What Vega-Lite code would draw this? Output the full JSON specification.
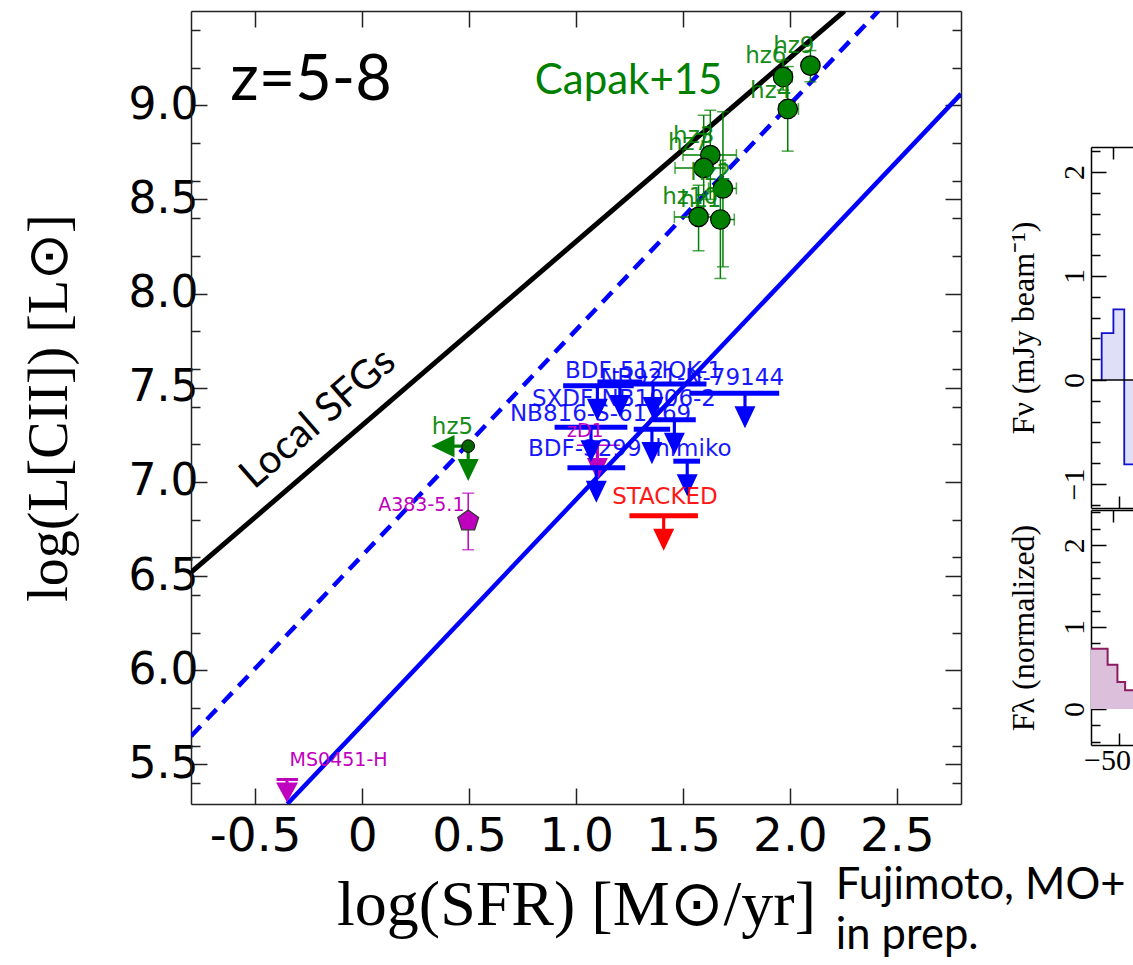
{
  "$schema": "https://vega.github.io/schema/vega-lite/v6.json",
  "background": "white",
  "padding": {"left": 21, "top": 7, "right": 0, "bottom": 0},
  "spacing": 45,
  "config": {
    "view": {"stroke": null},
    "axis": {"domainColor": "#222222", "domainWidth": 1.5, "tickColor": "#222222", "tickWidth": 1.5, "grid": false, "labelColor": "black", "titleColor": "black", "labelOverlap": false, "labelFlush": false}
  },
  "title": {"text": ["Fujimoto, MO+", "in prep."], "orient": "bottom", "anchor": "end", "align": "left", "frame": "bounds", "dx": -298, "dy": -72, "offset": 0, "font": "Lato", "fontSize": 43.5, "fontWeight": "normal", "lineHeight": 50, "color": "black"},
  "datasets": {
    "lines": [
      {"s": "local", "x": -0.8, "y": 6.52}, {"s": "local", "x": 2.255, "y": 9.5},
      {"s": "fit", "x": -0.35, "y": 5.29}, {"s": "fit", "x": 2.8, "y": 9.06},
      {"s": "fitoff", "x": -0.8, "y": 5.65}, {"s": "fitoff", "x": 2.414, "y": 9.5}
    ],
    "capak": [
      {"name": "hz9", "x": 2.096, "y": 9.21, "xlo": 2.06, "xhi": 2.13, "ylo": 9.124, "yhi": 9.29},
      {"name": "hz6", "x": 1.968, "y": 9.15, "xlo": 1.93, "xhi": 2.01, "ylo": 9.08, "yhi": 9.24},
      {"name": "hz4", "x": 1.99, "y": 8.98, "xlo": 1.95, "xhi": 2.04, "ylo": 8.756, "yhi": 9.205},
      {"name": "hz3", "x": 1.628, "y": 8.735, "xlo": 1.5, "xhi": 1.75, "ylo": 8.5, "yhi": 8.973},
      {"name": "hz7", "x": 1.597, "y": 8.667, "xlo": 1.463, "xhi": 1.697, "ylo": 8.42, "yhi": 8.947},
      {"name": "hz2", "x": 1.687, "y": 8.558, "xlo": 1.62, "xhi": 1.75, "ylo": 8.142, "yhi": 8.965},
      {"name": "hz10", "x": 1.573, "y": 8.407, "xlo": 1.46, "xhi": 1.68, "ylo": 8.227, "yhi": 8.575},
      {"name": "hz1", "x": 1.675, "y": 8.393, "xlo": 1.64, "xhi": 1.74, "ylo": 8.08, "yhi": 8.708}
    ],
    "limits": [
      {"name": "zD1", "g": "mag", "x": 1.1, "xlo": 1.005, "xhi": 1.205, "y": 7.195},
      {"name": "MS0451-H", "g": "mag", "x": -0.351, "xlo": -0.4, "xhi": -0.3, "y": 5.42},
      {"name": "BDF-512", "g": "blue", "x": 1.1, "xlo": 0.94, "xhi": 1.27, "y": 7.51},
      {"name": "SDF-46975", "g": "blue", "x": 1.205, "xlo": 1.1, "xhi": 1.31, "y": 7.53},
      {"name": "IOK-1", "g": "blue", "x": 1.36, "xlo": 1.17, "xhi": 1.61, "y": 7.52},
      {"name": "NB921-N-79144", "g": "blue", "x": 1.79, "xlo": 1.53, "xhi": 1.95, "y": 7.47},
      {"name": "SXDF-NB1006-2", "g": "blue", "x": 1.46, "xlo": 1.36, "xhi": 1.56, "y": 7.33},
      {"name": "NB816-S-61269", "g": "blue", "x": 1.07, "xlo": 0.9, "xhi": 1.24, "y": 7.29},
      {"name": "SDF-63544", "g": "blue", "x": 1.355, "xlo": 1.27, "xhi": 1.44, "y": 7.28},
      {"name": "himiko", "g": "blue", "x": 1.52, "xlo": 1.455, "xhi": 1.58, "y": 7.11},
      {"name": "BDF-3299", "g": "blue", "x": 1.095, "xlo": 0.96, "xhi": 1.23, "y": 7.075},
      {"name": "STACKED", "g": "red", "x": 1.41, "xlo": 1.25, "xhi": 1.57, "y": 6.82}
    ],
    "a383": [{"name": "A383-5.1", "x": 0.496, "y": 6.793, "ylo": 6.64, "yhi": 6.94}],
    "hz5": [{"name": "hz5", "x": 0.496, "y": 7.19}],
    "labels": [
      {"t": "BDF-512", "g": "blue", "x": 0.949, "y": 7.591},
      {"t": "IOK-1", "g": "blue", "x": 1.4, "y": 7.591},
      {"t": "NB921-N-79144", "g": "blue", "x": 1.113, "y": 7.554},
      {"t": "SXDF-NB1006-2", "g": "blue", "x": 0.794, "y": 7.442},
      {"t": "NB816-S-61269", "g": "blue", "x": 0.691, "y": 7.363},
      {"t": "BDF-3299", "g": "blue", "x": 0.776, "y": 7.177},
      {"t": "himiko", "g": "blue", "x": 1.37, "y": 7.177},
      {"t": "STACKED", "g": "red", "x": 1.169, "y": 6.922},
      {"t": "hz5", "g": "green", "x": 0.326, "y": 7.294},
      {"t": "hz9", "g": "green", "x": 1.922, "y": 9.312},
      {"t": "hz6", "g": "green", "x": 1.791, "y": 9.259},
      {"t": "hz4", "g": "green", "x": 1.814, "y": 9.073},
      {"t": "hz3", "g": "green", "x": 1.454, "y": 8.839},
      {"t": "hz7", "g": "green", "x": 1.43, "y": 8.8},
      {"t": "hz2", "g": "green", "x": 1.534, "y": 8.64},
      {"t": "hz10", "g": "green", "x": 1.403, "y": 8.515},
      {"t": "hz1", "g": "green", "x": 1.487, "y": 8.494},
      {"t": "zD1", "g": "mag", "x": 0.958, "y": 7.272},
      {"t": "A383-5.1", "g": "mag", "x": 0.075, "y": 6.876},
      {"t": "MS0451-H", "g": "mag", "x": -0.339, "y": 5.525}
    ],
    "notes": [
      {"t": "z=5-8", "x": -0.239, "y": 9.131},
      {"t": "Capak+15", "x": 0.807, "y": 9.126},
      {"t": "Local SFGs", "x": -0.206, "y": 7.336}
    ],
    "specA": [
      {"v": -59.9, "f": 0}, {"v": -59.9, "f": 0.45}, {"v": -53.2, "f": 0.68}, {"v": -47.0, "f": -0.81}, {"v": -42, "f": -0.81}
    ],
    "specB": [
      {"v": -66, "f": 0.735}, {"v": -56.5, "f": 0.54}, {"v": -50.9, "f": 0.33}, {"v": -46.5, "f": 0.23}, {"v": -42, "f": 0.23}
    ],
    "zero": [{"f": 0}]
  },
  "hconcat": [
    {
      "width": 770,
      "height": 793,
      "resolve": {"axis": {"x": "independent", "y": "independent"}},
      "layer": [
        {
          "data": {"name": "lines"},
          "transform": [{"filter": "datum.s == 'local'"}],
          "mark": {"type": "line", "color": "black", "strokeWidth": 5, "clip": true},
          "encoding": {
            "x": {"field": "x", "type": "quantitative", "scale": {"domain": [-0.8, 2.8], "nice": false, "zero": false},
              "axis": {"orient": "bottom", "values": [-0.5, 0, 0.5, 1, 1.5, 2, 2.5], "labelExpr": "datum.value == 0 ? '0' : (datum.value < 0 ? '-' : '') + format(abs(datum.value), '.1f')", "labelFont": "DejaVu Sans", "labelFontSize": 47, "labelPadding": 25, "tickSize": -16, "title": "log(SFR) [M⊙/yr]", "titleFont": "Liberation Serif", "titleFontSize": 64, "titleFontWeight": "normal", "titlePadding": 14}},
            "y": {"field": "y", "type": "quantitative", "scale": {"domain": [5.29, 9.5], "nice": false, "zero": false},
              "axis": {"orient": "left", "values": [5.4, 5.5, 5.6, 5.8, 6, 6.2, 6.4, 6.5, 6.6, 6.8, 7, 7.2, 7.4, 7.5, 7.6, 7.8, 8, 8.2, 8.4, 8.5, 8.6, 8.8, 9, 9.2, 9.4], "labelExpr": "abs(datum.value*2 - round(datum.value*2)) < 0.001 ? format(datum.value, '.1f') : ''", "tickSize": {"condition": {"test": "abs(datum.value*2 - round(datum.value*2)) < 0.001", "value": -16}, "value": -9}, "labelFont": "DejaVu Sans", "labelFontSize": 44, "labelPadding": 9, "title": "log(L[CII]) [L⊙]", "titleFont": "Liberation Serif", "titleFontSize": 56, "titleFontWeight": "normal", "titlePadding": 50}}
          }
        },
        {
          "data": {"name": "lines"},
          "transform": [{"filter": "datum.s == 'fitoff'"}],
          "mark": {"type": "line", "color": "#0000ff", "strokeWidth": 4.5, "strokeDash": [14, 9], "clip": true},
          "encoding": {
            "x": {"field": "x", "type": "quantitative", "scale": {"domain": [-0.8, 2.8], "nice": false, "zero": false},
              "axis": {"orient": "top", "values": [-0.5, 0, 0.5, 1, 1.5, 2, 2.5], "labels": false, "tickSize": -16, "title": null}},
            "y": {"field": "y", "type": "quantitative", "scale": {"domain": [5.29, 9.5], "nice": false, "zero": false},
              "axis": {"orient": "right", "values": [5.4, 5.5, 5.6, 5.8, 6, 6.2, 6.4, 6.5, 6.6, 6.8, 7, 7.2, 7.4, 7.5, 7.6, 7.8, 8, 8.2, 8.4, 8.5, 8.6, 8.8, 9, 9.2, 9.4], "labels": false, "tickSize": {"condition": {"test": "abs(datum.value*2 - round(datum.value*2)) < 0.001", "value": -16}, "value": -9}, "title": null}}
          }
        },
        {
          "data": {"name": "lines"},
          "transform": [{"filter": "datum.s == 'fit'"}],
          "mark": {"type": "line", "color": "#0000ff", "strokeWidth": 4.5, "clip": true},
          "encoding": {
            "x": {"field": "x", "type": "quantitative", "axis": null},
            "y": {"field": "y", "type": "quantitative", "axis": null}
          }
        },
        {
          "data": {"name": "capak"},
          "mark": {"type": "rule", "color": "#008000", "strokeWidth": 1.5},
          "encoding": {
            "x": {"field": "x", "type": "quantitative", "axis": null},
            "y": {"field": "ylo", "type": "quantitative", "axis": null},
            "y2": {"field": "yhi"}
          }
        },
        {
          "data": {"name": "capak"},
          "mark": {"type": "rule", "color": "#008000", "strokeWidth": 1.5},
          "encoding": {
            "x": {"field": "xlo", "type": "quantitative", "axis": null},
            "x2": {"field": "xhi"},
            "y": {"field": "y", "type": "quantitative", "axis": null}
          }
        },
        {
          "data": {"name": "capak"},
          "transform": [{"fold": ["ylo", "yhi"], "as": ["k", "v"]}],
          "mark": {"type": "tick", "orient": "horizontal", "color": "#008000", "size": 12, "thickness": 1.5},
          "encoding": {
            "x": {"field": "x", "type": "quantitative", "axis": null},
            "y": {"field": "v", "type": "quantitative", "axis": null}
          }
        },
        {
          "data": {"name": "capak"},
          "transform": [{"fold": ["xlo", "xhi"], "as": ["k", "v"]}],
          "mark": {"type": "tick", "orient": "vertical", "color": "#008000", "size": 12, "thickness": 1.5},
          "encoding": {
            "x": {"field": "v", "type": "quantitative", "axis": null},
            "y": {"field": "y", "type": "quantitative", "axis": null}
          }
        },
        {
          "data": {"name": "capak"},
          "mark": {"type": "point", "shape": "circle", "filled": true, "fill": "#007f00", "stroke": "black", "strokeWidth": 1.2, "size": 380, "opacity": 1},
          "encoding": {
            "x": {"field": "x", "type": "quantitative", "axis": null},
            "y": {"field": "y", "type": "quantitative", "axis": null}
          }
        },
        {
          "data": {"name": "hz5"},
          "mark": {"type": "point", "shape": "M-0.09,-1L0.09,-1L0.09,-0.26L0.6,-0.26L0,1L-0.6,-0.26L-0.09,-0.26Z", "filled": true, "color": "#008000", "size": 1225, "yOffset": 17.5, "opacity": 1, "strokeWidth": 0},
          "encoding": {
            "x": {"field": "x", "type": "quantitative", "axis": null},
            "y": {"field": "y", "type": "quantitative", "axis": null}
          }
        },
        {
          "data": {"name": "hz5"},
          "mark": {"type": "point", "shape": "M1,-0.09L1,0.09L0.26,0.09L0.26,0.6L-1,0L0.26,-0.6L0.26,-0.09Z", "filled": true, "color": "#008000", "size": 1369, "xOffset": -18.5, "opacity": 1, "strokeWidth": 0},
          "encoding": {
            "x": {"field": "x", "type": "quantitative", "axis": null},
            "y": {"field": "y", "type": "quantitative", "axis": null}
          }
        },
        {
          "data": {"name": "hz5"},
          "mark": {"type": "point", "shape": "circle", "filled": true, "fill": "#006400", "stroke": "black", "strokeWidth": 1, "size": 160, "opacity": 1},
          "encoding": {
            "x": {"field": "x", "type": "quantitative", "axis": null},
            "y": {"field": "y", "type": "quantitative", "axis": null}
          }
        },
        {
          "data": {"name": "a383"},
          "mark": {"type": "rule", "color": "#bf00bf", "strokeWidth": 1.5},
          "encoding": {
            "x": {"field": "x", "type": "quantitative", "axis": null},
            "y": {"field": "ylo", "type": "quantitative", "axis": null},
            "y2": {"field": "yhi"}
          }
        },
        {
          "data": {"name": "a383"},
          "transform": [{"fold": ["ylo", "yhi"], "as": ["k", "v"]}],
          "mark": {"type": "tick", "orient": "horizontal", "color": "#bf00bf", "size": 12, "thickness": 1.5},
          "encoding": {
            "x": {"field": "x", "type": "quantitative", "axis": null},
            "y": {"field": "v", "type": "quantitative", "axis": null}
          }
        },
        {
          "data": {"name": "a383"},
          "mark": {"type": "point", "shape": "M0,-1L0.951,-0.309L0.588,0.809L-0.588,0.809L-0.951,-0.309Z", "filled": true, "fill": "#bf00bf", "stroke": "#333333", "strokeWidth": 1.2, "size": 484, "opacity": 1},
          "encoding": {
            "x": {"field": "x", "type": "quantitative", "axis": null},
            "y": {"field": "y", "type": "quantitative", "axis": null}
          }
        },
        {
          "data": {"name": "limits"},
          "transform": [{"filter": "datum.name == 'zD1'"}],
          "mark": {"type": "rule", "color": "#bf00bf", "strokeWidth": 1.5},
          "encoding": {
            "x": {"field": "xlo", "type": "quantitative", "axis": null},
            "x2": {"field": "xhi"},
            "y": {"field": "y", "type": "quantitative", "axis": null}
          }
        },
        {
          "data": {"name": "limits"},
          "transform": [{"filter": "datum.name == 'MS0451-H'"}],
          "mark": {"type": "rule", "color": "#bf00bf", "strokeWidth": 3},
          "encoding": {
            "x": {"field": "xlo", "type": "quantitative", "axis": null},
            "x2": {"field": "xhi"},
            "y": {"field": "y", "type": "quantitative", "axis": null}
          }
        },
        {
          "data": {"name": "limits"},
          "transform": [{"filter": "datum.name == 'zD1'"}],
          "mark": {"type": "point", "shape": "M-0.09,-1L0.09,-1L0.09,-0.26L0.6,-0.26L0,1L-0.6,-0.26L-0.09,-0.26Z", "filled": true, "color": "#bf00bf", "size": 1225, "yOffset": 17.5, "opacity": 1, "strokeWidth": 0},
          "encoding": {
            "x": {"field": "x", "type": "quantitative", "axis": null},
            "y": {"field": "y", "type": "quantitative", "axis": null}
          }
        },
        {
          "data": {"name": "limits"},
          "transform": [{"filter": "datum.name == 'MS0451-H'"}],
          "mark": {"type": "point", "shape": "M-0.13,-1L0.13,-1L0.13,-0.75L0.95,-0.75L0,1L-0.95,-0.75L-0.13,-0.75Z", "filled": true, "color": "#bf00bf", "size": 529, "yOffset": 11.5, "opacity": 1, "strokeWidth": 0},
          "encoding": {
            "x": {"field": "x", "type": "quantitative", "axis": null},
            "y": {"field": "y", "type": "quantitative", "axis": null}
          }
        },
        {
          "data": {"name": "limits"},
          "transform": [{"filter": "datum.g != 'mag'"}],
          "mark": {"type": "rule", "strokeWidth": 5},
          "encoding": {
            "x": {"field": "xlo", "type": "quantitative", "axis": null},
            "x2": {"field": "xhi"},
            "y": {"field": "y", "type": "quantitative", "axis": null},
            "color": {"field": "g", "type": "nominal", "scale": {"domain": ["blue", "red", "mag", "green"], "range": ["#0000ff", "#ff0000", "#bf00bf", "#008000"]}, "legend": null}
          }
        },
        {
          "data": {"name": "limits"},
          "transform": [{"filter": "datum.g != 'mag'"}],
          "mark": {"type": "point", "shape": "M-0.09,-1L0.09,-1L0.09,-0.26L0.6,-0.26L0,1L-0.6,-0.26L-0.09,-0.26Z", "filled": true, "size": 1225, "yOffset": 17.5, "opacity": 1, "strokeWidth": 0},
          "encoding": {
            "x": {"field": "x", "type": "quantitative", "axis": null},
            "y": {"field": "y", "type": "quantitative", "axis": null},
            "color": {"field": "g", "type": "nominal", "scale": {"domain": ["blue", "red", "mag", "green"], "range": ["#0000ff", "#ff0000", "#bf00bf", "#008000"]}, "legend": null}
          }
        },
        {
          "data": {"name": "labels"},
          "transform": [{"filter": "datum.g != 'mag'"}],
          "mark": {"type": "text", "font": "DejaVu Sans", "fontSize": 23, "align": "left", "baseline": "middle", "opacity": 0.9},
          "encoding": {
            "x": {"field": "x", "type": "quantitative", "axis": null},
            "y": {"field": "y", "type": "quantitative", "axis": null},
            "text": {"field": "t"},
            "color": {"field": "g", "type": "nominal", "scale": {"domain": ["blue", "red", "mag", "green"], "range": ["#0000ff", "#ff0000", "#bf00bf", "#008000"]}, "legend": null}
          }
        },
        {
          "data": {"name": "labels"},
          "transform": [{"filter": "datum.g == 'mag'"}],
          "mark": {"type": "text", "font": "DejaVu Sans", "fontSize": 19, "align": "left", "baseline": "middle", "color": "#bf00bf"},
          "encoding": {
            "x": {"field": "x", "type": "quantitative", "axis": null},
            "y": {"field": "y", "type": "quantitative", "axis": null},
            "text": {"field": "t"}
          }
        },
        {
          "data": {"name": "notes"},
          "transform": [{"filter": "datum.t == 'z=5-8'"}],
          "mark": {"type": "text", "font": "Lato", "fontSize": 63, "align": "center", "baseline": "middle", "color": "black"},
          "encoding": {
            "x": {"field": "x", "type": "quantitative", "axis": null},
            "y": {"field": "y", "type": "quantitative", "axis": null},
            "text": {"field": "t"}
          }
        },
        {
          "data": {"name": "notes"},
          "transform": [{"filter": "datum.t == 'Capak+15'"}],
          "mark": {"type": "text", "font": "Lato", "fontSize": 42, "align": "left", "baseline": "middle", "color": "#008000"},
          "encoding": {
            "x": {"field": "x", "type": "quantitative", "axis": null},
            "y": {"field": "y", "type": "quantitative", "axis": null},
            "text": {"field": "t"}
          }
        },
        {
          "data": {"name": "notes"},
          "transform": [{"filter": "datum.t == 'Local SFGs'"}],
          "mark": {"type": "text", "font": "Lato", "fontSize": 40, "align": "center", "baseline": "middle", "angle": 319, "color": "black"},
          "encoding": {
            "x": {"field": "x", "type": "quantitative", "axis": null},
            "y": {"field": "y", "type": "quantitative", "axis": null},
            "text": {"field": "t"}
          }
        }
      ]
    },
    {
      "spacing": 0,
      "vconcat": [
        {
          "width": 42,
          "height": 135,
          "data": {"name": "zero"},
          "mark": {"type": "text", "text": "", "opacity": 0},
          "encoding": {}
        },
        {
          "width": 42,
          "height": 361,
          "resolve": {"axis": {"x": "independent", "y": "independent"}},
          "layer": [
            {
              "data": {"name": "specA"},
              "mark": {"type": "area", "interpolate": "step-after", "color": "#dfdff7", "opacity": 1, "clip": true},
              "encoding": {
                "x": {"field": "v", "type": "quantitative", "scale": {"domain": [-66, -42], "nice": false, "zero": false},
                  "axis": {"orient": "bottom", "values": [-50], "labels": false, "tickSize": -12, "title": null, "domainColor": "black", "tickColor": "black"}},
                "y": {"field": "f", "type": "quantitative", "scale": {"domain": [-1.23, 2.24], "nice": false, "zero": false}, "axis": null},
                "y2": {"datum": 0}
              }
            },
            {
              "data": {"name": "specA"},
              "mark": {"type": "line", "interpolate": "step-after", "color": "#1010d0", "strokeWidth": 1.8, "clip": true},
              "encoding": {
                "x": {"field": "v", "type": "quantitative", "axis": {"orient": "top", "values": [-53.5], "labels": false, "tickSize": -12, "title": null, "domainColor": "black", "tickColor": "black"}},
                "y": {"field": "f", "type": "quantitative",
                  "axis": {"orient": "left", "values": [-1.2, -1, -0.8, -0.6, -0.4, -0.2, 0, 0.2, 0.4, 0.6, 0.8, 1, 1.2, 1.4, 1.6, 1.8, 2, 2.2], "labelExpr": "abs(datum.value - round(datum.value)) < 0.001 ? format(datum.value, 'd') : ''", "tickSize": {"condition": {"test": "abs(datum.value - round(datum.value)) < 0.001", "value": -15}, "value": -9}, "labelFont": "Liberation Serif", "labelFontSize": 30, "labelAngle": -90, "labelAlign": "center", "labelBaseline": "bottom", "labelPadding": 17, "title": "Fν (mJy beam⁻¹)", "titleFont": "Liberation Serif", "titleFontSize": 32, "titleFontWeight": "normal", "titlePadding": 13, "domainColor": "black", "tickColor": "black"}}
              }
            },
            {
              "data": {"name": "zero"},
              "mark": {"type": "rule", "color": "black", "strokeWidth": 1.5},
              "encoding": {
                "y": {"field": "f", "type": "quantitative", "axis": null}
              }
            }
          ]
        },
        {
          "width": 42,
          "height": 235,
          "resolve": {"axis": {"x": "independent", "y": "independent"}},
          "layer": [
            {
              "data": {"name": "specB"},
              "mark": {"type": "area", "interpolate": "step-after", "color": "#dbbfdb", "opacity": 1, "clip": true},
              "encoding": {
                "x": {"field": "v", "type": "quantitative", "scale": {"domain": [-66, -42], "nice": false, "zero": false},
                  "axis": {"orient": "bottom", "values": [-50], "labelFont": "Liberation Serif", "labelFontSize": 30, "labelOffset": -12, "labelPadding": 12, "tickSize": -12, "title": null, "domainColor": "black", "tickColor": "black"}},
                "y": {"field": "f", "type": "quantitative", "scale": {"domain": [-0.44, 2.43], "nice": false, "zero": false}, "axis": null},
                "y2": {"datum": 0}
              }
            },
            {
              "data": {"name": "specB"},
              "mark": {"type": "line", "interpolate": "step-after", "color": "#8b1c62", "strokeWidth": 2, "clip": true},
              "encoding": {
                "x": {"field": "v", "type": "quantitative", "axis": {"orient": "top", "values": [-53.5], "labels": false, "tickSize": -12, "title": null, "domainColor": "black", "tickColor": "black"}},
                "y": {"field": "f", "type": "quantitative",
                  "axis": {"orient": "left", "values": [-0.4, -0.2, 0, 0.2, 0.4, 0.6, 0.8, 1, 1.2, 1.4, 1.6, 1.8, 2, 2.2, 2.4], "labelExpr": "abs(datum.value - round(datum.value)) < 0.001 ? format(datum.value, 'd') : ''", "tickSize": {"condition": {"test": "abs(datum.value - round(datum.value)) < 0.001", "value": -15}, "value": -9}, "labelFont": "Liberation Serif", "labelFontSize": 30, "labelAngle": -90, "labelAlign": "center", "labelBaseline": "bottom", "labelPadding": 17, "title": "Fλ (normalized)", "titleFont": "Liberation Serif", "titleFontSize": 32, "titleFontWeight": "normal", "titlePadding": 13, "domainColor": "black", "tickColor": "black"}}
              }
            }
          ]
        }
      ]
    }
  ]
}
